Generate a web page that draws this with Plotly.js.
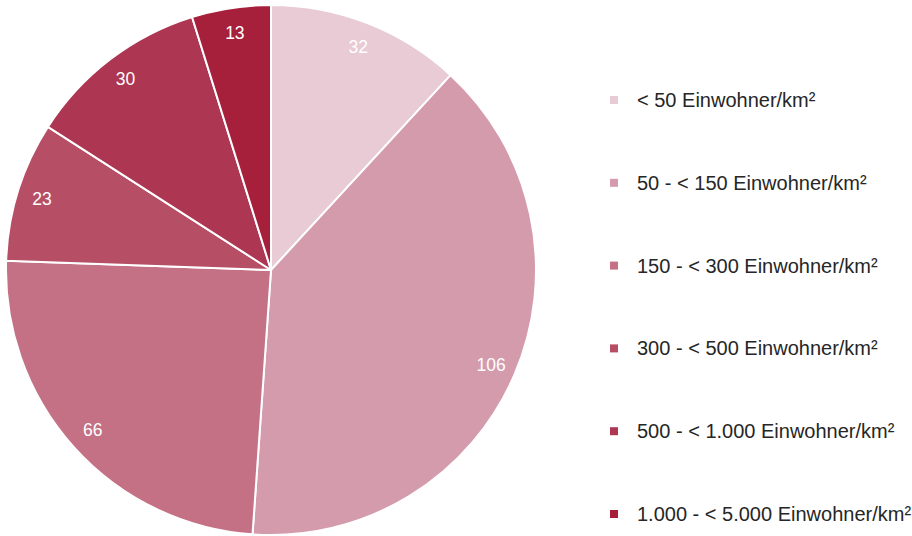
<!DOCTYPE html>
<html><head><meta charset="utf-8">
<script src="https://cdn.plot.ly/plotly-3.0.1.min.js"></script>
<style>html,body{margin:0;padding:0;background:#fff}#chart{width:912px;height:536px}</style>
</head><body><div id="chart"></div>
<script>
const categories = ["< 50 Einwohner/km²","50 - < 150 Einwohner/km²","150 - < 300 Einwohner/km²","300 - < 500 Einwohner/km²","500 - < 1.000 Einwohner/km²","1.000 - < 5.000 Einwohner/km²"];
const values = [32, 106, 66, 23, 30, 13];
const colors = ["#E8CBD5","#D49BAD","#C47085","#B64F66","#AD3653","#A61F3B"];

const W = 912, H = 536;
const legendX = 614, legendY0 = 100, legendStep = 82.8;
const annotations = [], shapes = [];
categories.forEach((c, i) => {
  const y = legendY0 + i * legendStep;
  shapes.push({type:'rect', xref:'paper', yref:'paper',
    x0:(legendX-4)/W, x1:(legendX+4)/W, y0:1-(y+4)/H, y1:1-(y-4)/H,
    fillcolor: colors[i], line:{width:0}});
  annotations.push({xref:'paper', yref:'paper', x:(legendX+21)/W, y:1-y/H,
    xanchor:'left', yanchor:'middle', text:c, showarrow:false,
    font:{family:'Liberation Sans, Arial, sans-serif', size:20, color:'#262626'}});
});

const dom = {x:[6/W, 536/W], y:[1/H, 531/H]};
Plotly.newPlot('chart', [{
  type:'pie', values: values, labels: categories,
  sort:false, direction:'clockwise', rotation:0,
  marker:{colors: colors, line:{color:'#fff', width:2}},
  textinfo:'none', hoverinfo:'label+value', domain: dom
},{
  type:'pie', values: values, labels: categories, hole:0.81,
  sort:false, direction:'clockwise', rotation:0,
  marker:{colors: colors.map(() => 'rgba(0,0,0,0)'), line:{width:0}},
  textinfo:'value', textposition:'inside', insidetextorientation:'horizontal',
  textfont:{family:'Liberation Sans, Arial, sans-serif', size:17.5, color:'#fff'},
  hoverinfo:'skip', domain: dom
}], {
  width:W, height:H, margin:{l:0,r:0,t:0,b:0}, showlegend:false,
  paper_bgcolor:'#fff', annotations: annotations, shapes: shapes
}, {displayModeBar:false});
</script></body></html>
